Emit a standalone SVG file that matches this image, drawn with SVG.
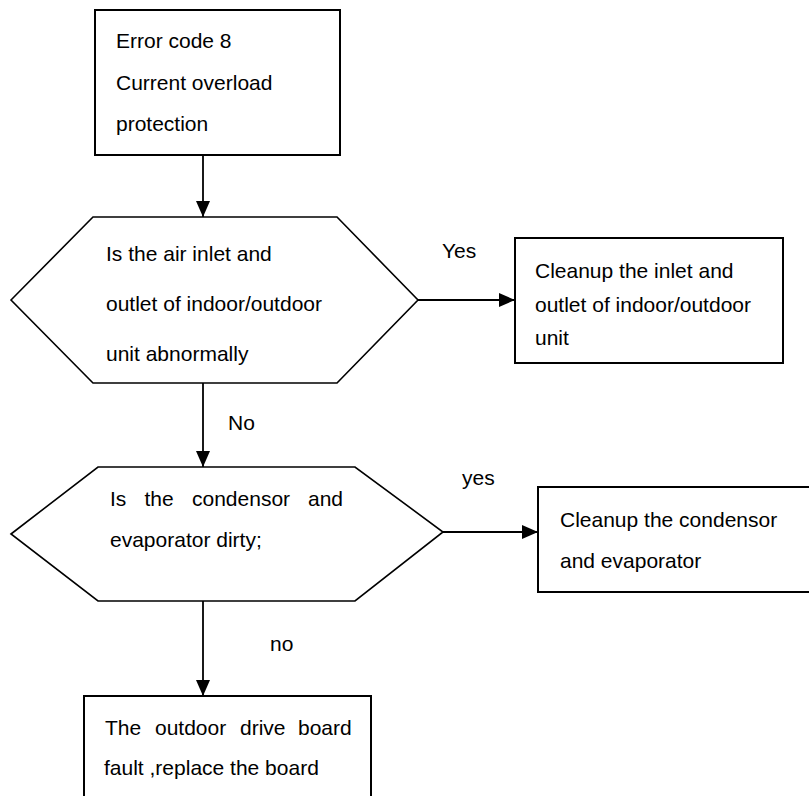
<svg xmlns="http://www.w3.org/2000/svg" width="809" height="796" viewBox="0 0 809 796">
  <style>
    .box { fill: #ffffff; stroke: #000000; stroke-width: 2; }
    .decision { fill: #ffffff; stroke: #000000; stroke-width: 1.6; }
    .edge { fill: none; stroke: #000000; stroke-width: 1.8; }
    text { font-family: "Liberation Sans", Arial, sans-serif; font-size: 21px; fill: #000000; }
  </style>
  <defs>
    <marker id="arrow" markerWidth="16" markerHeight="14" refX="16" refY="7" orient="auto" markerUnits="userSpaceOnUse">
      <path d="M0,0 L16,7 L0,14 Z" fill="#000000"/>
    </marker>
  </defs>
  <rect width="809" height="796" fill="#ffffff"/>

  <!-- connectors -->
  <g id="connectors">
    <line class="edge" x1="203" y1="155" x2="203" y2="217" marker-end="url(#arrow)"/>
    <line class="edge" x1="418" y1="300" x2="515" y2="300" marker-end="url(#arrow)"/>
    <text x="442" y="258">Yes</text>
    <line class="edge" x1="203" y1="383" x2="203" y2="467" marker-end="url(#arrow)"/>
    <text x="228" y="430">No</text>
    <line class="edge" x1="443" y1="532" x2="538" y2="532" marker-end="url(#arrow)"/>
    <text x="462" y="485">yes</text>
    <line class="edge" x1="203" y1="598" x2="203" y2="696" marker-end="url(#arrow)"/>
    <text x="270" y="651">no</text>
  </g>

  <!-- start: error code box -->
  <g id="error-code">
    <rect class="box" x="95" y="10" width="245" height="145"/>
    <text x="116" y="48">Error code 8</text>
    <text x="116" y="90">Current overload</text>
    <text x="116" y="131">protection</text>
  </g>

  <!-- decision: air inlet / outlet -->
  <g id="check-airflow">
    <polygon class="decision" points="11,300 93,217 337,217 418,300 337,383 93,383"/>
    <text x="106" y="261">Is the air inlet and</text>
    <text x="106" y="311">outlet of indoor/outdoor</text>
    <text x="106" y="361">unit abnormally</text>
  </g>

  <!-- action: clean inlet / outlet -->
  <g id="clean-airflow">
    <rect class="box" x="515" y="238" width="268" height="125"/>
    <text x="535" y="278">Cleanup the inlet and</text>
    <text x="535" y="312">outlet of indoor/outdoor</text>
    <text x="535" y="345">unit</text>
  </g>

  <!-- decision: heat exchangers dirty -->
  <g id="check-coils">
    <polygon class="decision" points="11,534 98,467 355,467 443,532 355,601 98,601"/>
    <text y="506"><tspan x="110">Is</tspan><tspan x="144.5">the</tspan><tspan x="192">condensor</tspan><tspan x="308">and</tspan></text>
    <text x="110" y="547">evaporator dirty;</text>
  </g>

  <!-- action: clean heat exchangers -->
  <g id="clean-coils">
    <rect class="box" x="538" y="487" width="272" height="105"/>
    <text x="560" y="527">Cleanup the condensor</text>
    <text x="560" y="568">and evaporator</text>
  </g>

  <!-- action: replace drive board -->
  <g id="replace-board">
    <rect class="box" x="84" y="696" width="287" height="130"/>
    <text y="735"><tspan x="105">The</tspan><tspan x="155">outdoor</tspan><tspan x="240">drive</tspan><tspan x="298">board</tspan></text>
    <text x="104" y="775">fault ,replace the board</text>
  </g>
</svg>
